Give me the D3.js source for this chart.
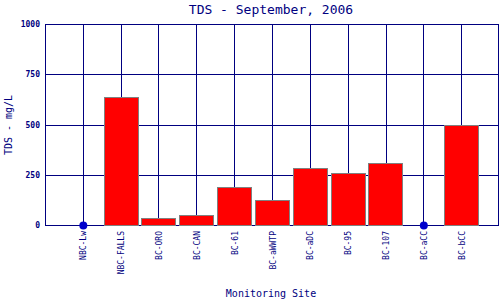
<!DOCTYPE html>
<html>
<head>
<meta charset="utf-8">
<script src="https://cdn.jsdelivr.net/npm/d3@7"></script>
<style>
  body { margin: 0; background: #fff; }
  text { font-family: "DejaVu Sans Mono", monospace; fill: #000080; }
</style>
</head>
<body>
<div id="chart"></div>
<script>
"use strict";

// monitoring sites, left to right
const sites = ["NBC-Lw", "NBC-FALLS", "BC-ORO", "BC-CAN", "BC-61", "BC-aWWTP",
               "BC-aDC", "BC-95", "BC-107", "BC-aCC", "BC-bCC"];
// TDS in mg/L, null = no sample (drawn as a dot on the axis)
const tds = [null, 635, 33, 48, 188, 123, 282, 257, 307, null, 496];
const yTicks = [0, 250, 500, 750, 1000];

const W = 500, H = 300;
const margin = {top: 24, right: 1, bottom: 75, left: 45};
const width = W - margin.left - margin.right;
const height = H - margin.top - margin.bottom;

const svg = d3.select("#chart").append("svg")
  .attr("width", W).attr("height", H);

// one empty slot each side of the categories
const x = d3.scalePoint().domain(sites).range([0, width]).padding(1);
const step = x.step();
const y = d3.scaleLinear().domain([0, 1000]).range([height, 0]);

const g = svg.append("g")
  .attr("transform", `translate(${margin.left},${margin.top})`);

// grid
g.selectAll(".hgrid").data(yTicks).enter().append("line")
  .attr("x1", 0).attr("x2", width)
  .attr("y1", d => Math.round(y(d)) + 0.5).attr("y2", d => Math.round(y(d)) + 0.5)
  .attr("stroke", "#000080");

g.selectAll(".vgrid").data(sites).enter().append("line")
  .attr("x1", d => Math.round(x(d)) + 0.5).attr("x2", d => Math.round(x(d)) + 0.5)
  .attr("y1", 0).attr("y2", height)
  .attr("stroke", "#000080");

// frame: left + right edges
g.append("line").attr("x1", 0.5).attr("x2", 0.5).attr("y1", 0).attr("y2", height)
  .attr("stroke", "#000080");
g.append("line").attr("x1", width - 0.5).attr("x2", width - 0.5).attr("y1", 0).attr("y2", height)
  .attr("stroke", "#000080");

// bars
const data = sites.map((s, i) => ({site: s, value: tds[i]}));
const barW = step * 0.9;

g.selectAll(".bar")
  .data(data.filter(d => d.value != null))
  .enter().append("rect")
  .attr("class", "bar")
  .attr("x", d => Math.round(x(d.site) - barW / 2) + 0.5)
  .attr("y", d => Math.round(y(d.value)) + 0.5)
  .attr("width", Math.round(barW))
  .attr("height", d => Math.round(height - y(d.value)))
  .attr("fill", "#ff0000")
  .attr("stroke", "#808080");

// missing samples
g.selectAll(".dot")
  .data(data.filter(d => d.value == null))
  .enter().append("circle")
  .attr("cx", d => x(d.site) + 0.5)
  .attr("cy", y(0) + 0.5)
  .attr("r", 4)
  .attr("fill", "#0000cc");

// y tick labels
g.selectAll(".ytick").data(yTicks).enter().append("text")
  .attr("x", -5)
  .attr("y", d => y(d) + 3)
  .attr("text-anchor", "end")
  .style("font-size", "8px")
  .style("font-weight", "bold")
  .text(d => d);

// x tick labels, rotated
g.selectAll(".xtick").data(sites).enter().append("text")
  .attr("transform", d => `translate(${x(d) + 3.5},${height + 6}) rotate(-90)`)
  .attr("text-anchor", "end")
  .style("font-size", "8px")
  .text(d => d);

// titles
svg.append("text")
  .attr("x", 271).attr("y", 14)
  .attr("text-anchor", "middle")
  .style("font-size", "13px")
  .text("TDS - September, 2006");

svg.append("text")
  .attr("x", 271).attr("y", 297)
  .attr("text-anchor", "middle")
  .style("font-size", "10px")
  .text("Monitoring Site");

svg.append("text")
  .attr("transform", "translate(12,125) rotate(-90)")
  .attr("text-anchor", "middle")
  .style("font-size", "10px")
  .text("TDS - mg/L");
</script>
</body>
</html>
